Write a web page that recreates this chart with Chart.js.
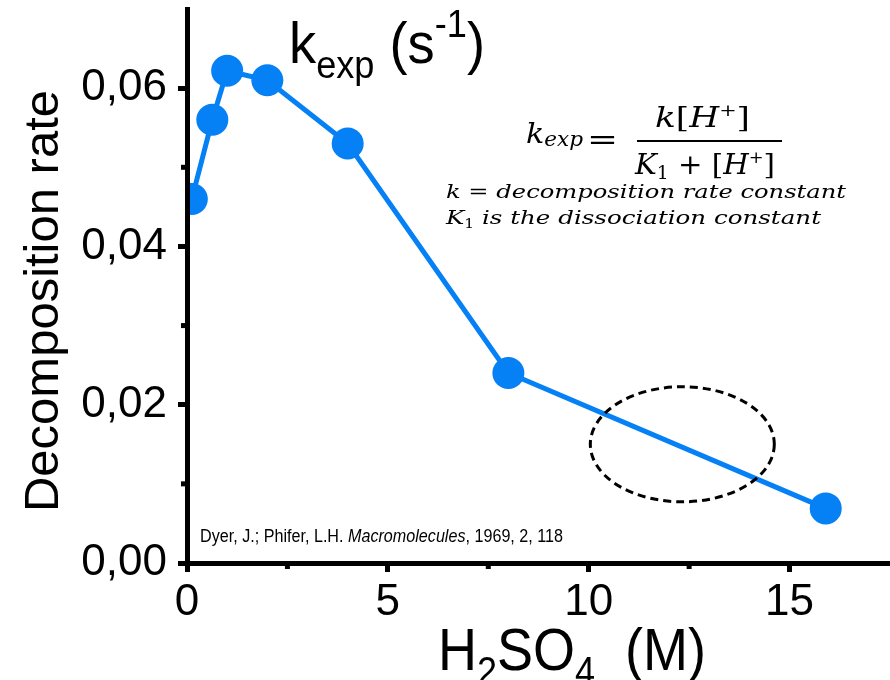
<!DOCTYPE html>
<html>
<head>
<meta charset="utf-8">
<script src="https://cdn.jsdelivr.net/npm/chart.js@4.4.1/dist/chart.umd.min.js"></script>
<style>
  html, body { margin: 0; padding: 0; background: #fff; }
  #wrap { width: 890px; height: 680px; }
</style>
</head>
<body>
<div id="wrap"><canvas id="rateChart" width="890" height="680"></canvas></div>
<script>
// H2SO4 concentration (M) and decomposition rate k_exp (s-1)
const acidConc = [0.12, 0.63, 1.0, 2.0, 4.0, 8.0, 15.9];
const decompRate = [0.046, 0.056, 0.0622, 0.061, 0.053, 0.024, 0.0069];

const xMajorTicks = [0, 5, 10, 15];
const xMinorTicks = [2.5, 7.5, 12.5];
const yMajorTicks = [0, 0.02, 0.04, 0.06];
const yMinorTicks = [0.01, 0.03, 0.05];

// dashed ellipse around the high-acid region (data units)
const ellipseNote = { x: 12.33, y: 0.0150, rx: 2.29, ry: 0.00727 };

const blue = 'rgb(5, 128, 245)';
const sans = '"Liberation Sans", Arial, sans-serif';
const serif = '"DejaVu Serif", "Liberation Serif", serif';

const isMajor = (v, list) => list.some(m => Math.abs(m - v) < 1e-9);

function drawRuns(ctx, runs, x, y, fitWidth, align) {
  let total = 0;
  const widths = runs.map(r => {
    ctx.font = r.font;
    const w = ctx.measureText(r.t).width;
    total += w;
    return w;
  });
  const sx = fitWidth ? fitWidth / total : 1;
  let start = x;
  if (align === 'center') start = x - total * sx / 2;
  ctx.save();
  ctx.translate(start, y);
  ctx.scale(sx, 1);
  ctx.textAlign = 'left';
  ctx.textBaseline = 'alphabetic';
  let cx = 0;
  runs.forEach((r, i) => {
    ctx.font = r.font;
    ctx.fillText(r.t, cx, r.dy || 0);
    cx += widths[i];
  });
  ctx.restore();
}

const minorTicks = {
  id: 'minorTicks',
  afterDraw(chart) {
    const { ctx, chartArea, scales } = chart;
    ctx.save();
    ctx.strokeStyle = '#000';
    ctx.lineWidth = 5;
    xMinorTicks.forEach(v => {
      const px = scales.x.getPixelForValue(v);
      ctx.beginPath();
      ctx.moveTo(px, chartArea.bottom);
      ctx.lineTo(px, chartArea.bottom + 6);
      ctx.stroke();
    });
    yMinorTicks.forEach(v => {
      const py = scales.y.getPixelForValue(v);
      ctx.beginPath();
      ctx.moveTo(chartArea.left - 6, py);
      ctx.lineTo(chartArea.left, py);
      ctx.stroke();
    });
    ctx.restore();
  }
};

const notes = {
  id: 'notes',
  afterDraw(chart) {
    const { ctx, scales } = chart;
    ctx.save();
    ctx.fillStyle = '#000';

    // ellipse
    const cx = scales.x.getPixelForValue(ellipseNote.x);
    const cy = scales.y.getPixelForValue(ellipseNote.y);
    const rx = scales.x.getPixelForValue(ellipseNote.x + ellipseNote.rx) - cx;
    const ry = cy - scales.y.getPixelForValue(ellipseNote.y + ellipseNote.ry);
    ctx.strokeStyle = '#000';
    ctx.lineWidth = 3;
    ctx.setLineDash([8, 5]);
    ctx.beginPath();
    ctx.ellipse(cx, cy, rx, ry, 0, 0, Math.PI * 2);
    ctx.stroke();
    ctx.setLineDash([]);

    // y title
    ctx.save();
    ctx.translate(58, 301);
    ctx.rotate(-Math.PI / 2);
    drawRuns(ctx, [{ t: 'Decomposition rate', font: '49px ' + sans }], 0, 0, 422, 'center');
    ctx.restore();

    // x title
    drawRuns(ctx, [
      { t: 'H', font: '60px ' + sans },
      { t: '2', font: '40px ' + sans, dy: 15 },
      { t: 'SO', font: '60px ' + sans },
      { t: '4', font: '40px ' + sans, dy: 15 },
      { t: '  (M)', font: '60px ' + sans }
    ], 438, 670, 268);

    // k_exp (s-1)
    drawRuns(ctx, [
      { t: 'k', font: '57px ' + sans },
      { t: 'exp', font: '38px ' + sans, dy: 15 },
      { t: ' (s', font: '57px ' + sans },
      { t: '-1', font: '38px ' + sans, dy: -26 },
      { t: ')', font: '57px ' + sans }
    ], 289, 63, 196);

    // citation
    drawRuns(ctx, [
      { t: 'Dyer, J.; Phifer, L.H. ', font: '18px ' + sans },
      { t: 'Macromolecules', font: 'italic 18px ' + sans },
      { t: ', 1969, 2, 118', font: '18px ' + sans }
    ], 200, 542, 363);

    // formula
    const it = s => 'italic ' + s + 'px ' + serif;
    drawRuns(ctx, [{ t: 'k', font: it(28) }, { t: 'exp', font: it(20), dy: 3 }], 526, 143, 57);
    drawRuns(ctx, [{ t: '=', font: '28px ' + serif }], 587, 149, 31);
    ctx.fillRect(637, 140, 145, 2);
    drawRuns(ctx, [
      { t: 'k', font: it(28) },
      { t: '[', font: '28px ' + serif },
      { t: 'H', font: it(28) },
      { t: '+', font: '17px ' + serif, dy: -11 },
      { t: ']', font: '28px ' + serif }
    ], 655, 127, 95);
    drawRuns(ctx, [
      { t: 'K', font: it(28) },
      { t: '1', font: '18px ' + serif, dy: 5 },
      { t: ' + [', font: '28px ' + serif },
      { t: 'H', font: it(28) },
      { t: '+', font: '17px ' + serif, dy: -11 },
      { t: ']', font: '28px ' + serif }
    ], 635, 174, 140);
    drawRuns(ctx, [{ t: 'k = decomposition rate constant', font: it(19) }], 446, 198, 400);
    drawRuns(ctx, [
      { t: 'K', font: it(19) },
      { t: '1', font: '12px ' + serif, dy: 4 },
      { t: ' is the dissociation constant', font: it(19) }
    ], 446, 224, 375);

    ctx.restore();
  }
};

const ctx = document.getElementById('rateChart').getContext('2d');
const rateChart = new Chart(ctx, {
  type: 'line',
  data: {
    datasets: [{
      label: 'k_exp',
      data: acidConc.map((x, i) => ({ x: x, y: decompRate[i] })),
      borderColor: blue,
      backgroundColor: blue,
      borderWidth: 5,
      pointRadius: 16,
      pointBorderWidth: 0,
      pointBackgroundColor: blue,
      tension: 0,
      clip: { left: -3, top: 30, right: 30, bottom: 30 }
    }]
  },
  options: {
    responsive: false,
    animation: false,
    devicePixelRatio: 1,
    layout: { autoPadding: false, padding: { top: 9, right: 0, left: 0, bottom: 0 } },
    plugins: {
      legend: { display: false },
      tooltip: { enabled: false }
    },
    scales: {
      x: {
        type: 'linear',
        min: 0,
        max: 17.5,
        border: { display: true, color: '#000', width: 5 },
        grid: {
          drawOnChartArea: false,
          drawTicks: true,
          tickLength: 9,
          tickWidth: 5,
          tickColor: c => isMajor(c.tick.value, xMajorTicks) ? '#000' : 'rgba(0,0,0,0)'
        },
        ticks: {
          stepSize: 2.5,
          autoSkip: false,
          maxRotation: 0,
          padding: 4,
          color: '#000',
          font: { family: sans, size: 44 },
          callback: v => isMajor(v, xMajorTicks) ? String(v) : ''
        },
        afterFit: s => { s.height = 117; s.paddingLeft = 0; s.paddingRight = 0; }
      },
      y: {
        min: 0,
        max: 0.07,
        border: { display: true, color: '#000', width: 5 },
        grid: {
          drawOnChartArea: false,
          drawTicks: true,
          tickLength: 9,
          tickWidth: 5,
          tickColor: c => isMajor(c.tick.value, yMajorTicks) ? '#000' : 'rgba(0,0,0,0)'
        },
        ticks: {
          stepSize: 0.01,
          autoSkip: false,
          padding: 11,
          color: '#000',
          font: { family: sans, size: 44 },
          callback: v => isMajor(v, yMajorTicks) ? v.toFixed(2).replace('.', ',') : ''
        },
        afterFit: s => { s.width = 187; s.paddingTop = 0; s.paddingBottom = 0; }
      }
    }
  },
  plugins: [minorTicks, notes]
});
</script>
</body>
</html>
